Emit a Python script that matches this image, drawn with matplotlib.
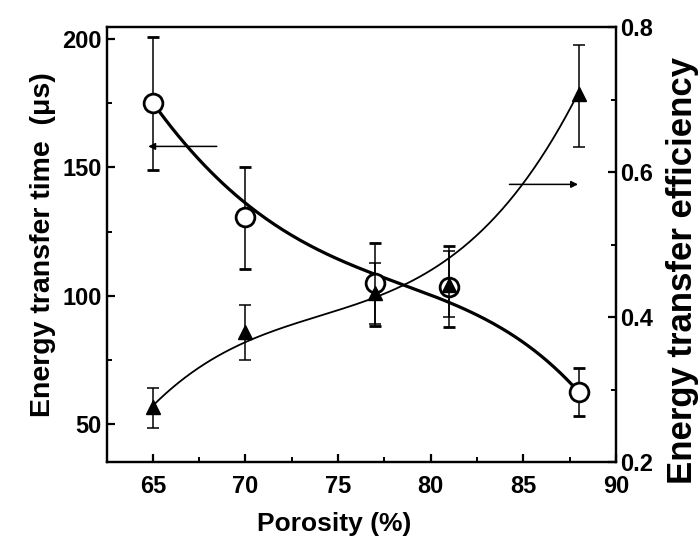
import numpy as np
import matplotlib
matplotlib.use("Agg")
import matplotlib.pyplot as plt
from matplotlib.ticker import MultipleLocator

plt.rcParams['font.family'] = ['Liberation Sans', 'DejaVu Sans']
plt.rcParams['font.weight'] = 'bold'

porosity = np.array([65, 70, 77, 81, 88])

# energy transfer time (us), left axis
time_val = np.array([175, 130.5, 105, 103.6, 62.5])
time_hi = np.array([201, 150, 120.7, 119.2, 71.9])
time_lo = np.array([149, 110.6, 88.3, 87.9, 53.2])

# energy transfer efficiency, right axis
eff_val = np.array([0.276, 0.379, 0.433, 0.444, 0.708])
eff_hi = np.array([0.302, 0.417, 0.474, 0.491, 0.775])
eff_lo = np.array([0.247, 0.341, 0.390, 0.400, 0.634])

# fitted curves, points
curve_x = np.array([65, 67.5, 70, 74, 77, 79, 81, 83.1, 85.3, 88])
time_curve = np.array([174.6, 154.5, 135.6, 116.7, 107.6, 103.7, 99.5, 89.4, 78.9, 63])
eff_curve = np.array([0.279, 0.327, 0.364, 0.412, 0.428, 0.442, 0.47, 0.534, 0.607, 0.705])

fig = plt.figure(figsize=(7, 5.42), dpi=100)
ax = fig.add_axes([0.153, 0.1476, 0.727, 0.8024])
ax2 = ax.twinx()

xs = np.linspace(65, 88, 200)
pt = np.polyfit(curve_x, time_curve, 4)
ax.plot(xs, np.polyval(pt, xs), color='black', lw=2.3, zorder=3)
pe = np.polyfit(curve_x, eff_curve, 3)
ax2.plot(xs, np.polyval(pe, xs), color='black', lw=1.3, zorder=3)

ax.errorbar(porosity, time_val, yerr=[time_val - time_lo, time_hi - time_val],
            fmt='o', ms=13.5, mfc='white', mec='black', mew=2, color='black',
            ecolor='black', elinewidth=1.1, capsize=4.5, capthick=1.1, zorder=4)
ax2.errorbar(porosity, eff_val, yerr=[eff_val - eff_lo, eff_hi - eff_val],
             fmt='^', ms=10, mfc='black', mec='black', color='black',
             ecolor='black', elinewidth=1.1, capsize=4.5, capthick=1.1, zorder=4)

# arrows pointing to the axes
ax.annotate('', xy=(64.6, 158.2), xytext=(68.6, 158.2),
            arrowprops=dict(arrowstyle='-|>', color='black', lw=1.1,
                            mutation_scale=10))
ax2.annotate('', xy=(88.1, 0.583), xytext=(84.1, 0.583),
             arrowprops=dict(arrowstyle='-|>', color='black', lw=1.1,
                             mutation_scale=10))

ax.set_xlim(62.53, 90)
ax.set_ylim(35.2, 204.7)
ax2.set_ylim(0.2, 0.8)

ax.xaxis.set_major_locator(MultipleLocator(5))
ax.xaxis.set_minor_locator(MultipleLocator(2.5))
ax.yaxis.set_major_locator(MultipleLocator(50))
ax.yaxis.set_minor_locator(MultipleLocator(25))
ax2.yaxis.set_major_locator(MultipleLocator(0.2))
ax2.yaxis.set_minor_locator(MultipleLocator(0.1))

for a in (ax, ax2):
    for s in a.spines.values():
        s.set_linewidth(1.6)
    a.tick_params(which='major', direction='in', length=6, width=1.6,
                  labelsize=17)
    a.tick_params(which='minor', direction='in', length=3.5, width=1.4)
ax.tick_params(axis='x', pad=9)
ax.tick_params(axis='y', pad=4)
ax2.tick_params(axis='y', pad=3)
ax2.yaxis.set_major_formatter(plt.FuncFormatter(lambda v, p: f'{v:.1f}'))

ax.set_xlabel('Porosity (%)', fontsize=19, fontweight='bold', labelpad=12)
ax.xaxis.set_label_coords(0.446, -0.115)
ax.set_ylabel('Energy transfer time  (\u03bcs)', fontsize=20.5, fontweight='bold', labelpad=4)
ax2.set_ylabel('Energy transfer efficiency', fontsize=25, fontweight='bold')
ax2.yaxis.set_label_coords(1.098, 0.44)

fig.savefig('out.png', dpi=100)
